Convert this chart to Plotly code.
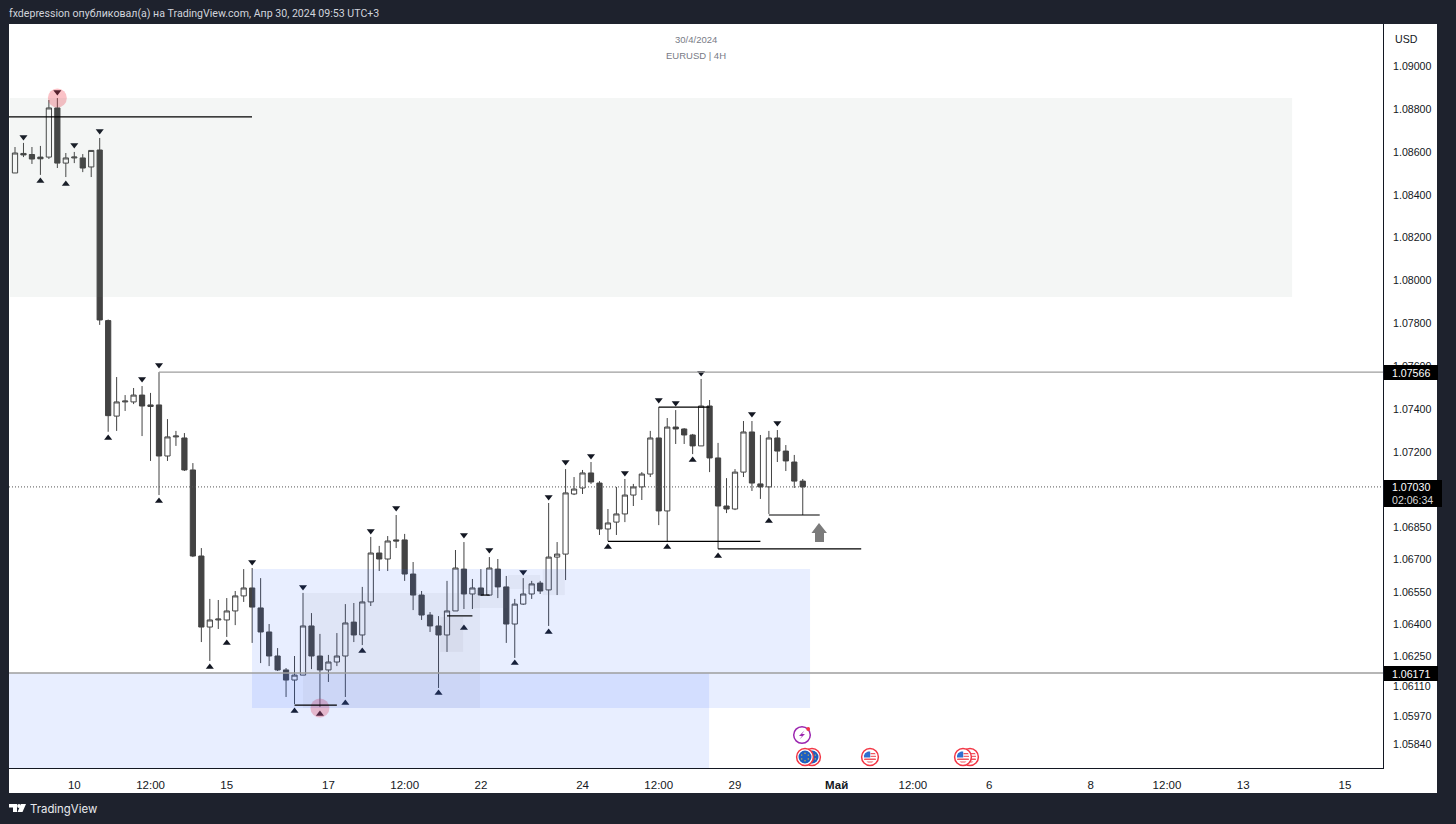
import plotly.graph_objects as go

# ---- data (EURUSD 4H) ----
opens = [1.08502,1.08593,1.08588,1.08576,1.08576,1.08805,1.08548,1.08572,1.08572,1.08530,1.08609,1.07814,
1.07369,1.07435,1.07435,1.07467,1.07421,1.07421,1.07183,1.07272,1.07267,1.07118,1.06717,1.06386,
1.06419,1.06419,1.06461,1.06531,1.06568,1.06475,1.06363,1.06251,1.06186,1.06139,1.06162,1.06391,
1.06251,1.06186,1.06223,1.06251,1.06409,1.06349,1.06503,1.06731,1.06703,1.06792,1.06792,1.06633,
1.06535,1.06442,1.06391,1.06349,1.06461,1.06656,1.06540,1.06568,1.06535,1.06656,1.06573,1.06400,
1.06493,1.06540,1.06591,1.06559,1.06712,1.06726,1.07006,1.07034,1.07104,1.07057,1.06843,1.06875,
1.06913,1.07001,1.07039,1.07099,1.07267,1.06927,1.07318,1.07309,1.07281,1.07230,1.07416,1.07174,
1.06950,1.06936,1.07108,1.07295,1.07053,1.07039,1.07267,1.07206,1.07155,1.07066]
highs = [1.08623,1.08642,1.08623,1.08628,1.08842,1.08851,1.08595,1.08600,1.08590,1.08609,1.08665,1.07819,
1.07551,1.07467,1.07500,1.07509,1.07477,1.07574,1.07355,1.07300,1.07290,1.07150,1.06754,1.06517,
1.06512,1.06521,1.06554,1.06656,1.06661,1.06614,1.06400,1.06288,1.06195,1.06251,1.06545,1.06451,
1.06354,1.06256,1.06358,1.06493,1.06498,1.06573,1.06806,1.06764,1.06810,1.06908,1.06820,1.06689,
1.06554,1.06456,1.06437,1.06601,1.06745,1.06782,1.06610,1.06656,1.06712,1.06703,1.06624,1.06517,
1.06614,1.06601,1.06601,1.06964,1.06782,1.07122,1.07085,1.07118,1.07155,1.07066,1.06936,1.07039,
1.07076,1.07053,1.07108,1.07300,1.07411,1.07360,1.07397,1.07313,1.07286,1.07542,1.07444,1.07244,
1.07080,1.07122,1.07346,1.07346,1.07281,1.07300,1.07304,1.07234,1.07188,1.07076]
lows = [1.08502,1.08576,1.08544,1.08493,1.08567,1.08525,1.08483,1.08548,1.08506,1.08483,1.07794,1.07296,
1.07300,1.07393,1.07425,1.07276,1.07160,1.07001,1.07160,1.07230,1.07113,1.06712,1.06316,1.06228,
1.06377,1.06340,1.06395,1.06503,1.06312,1.06218,1.06204,1.06181,1.06060,1.06027,1.06162,1.06190,
1.06013,1.06130,1.06204,1.06060,1.06316,1.06302,1.06484,1.06647,1.06647,1.06754,1.06601,1.06465,
1.06419,1.06363,1.06102,1.06270,1.06461,1.06470,1.06470,1.06531,1.06531,1.06521,1.06312,1.06242,
1.06489,1.06517,1.06540,1.06391,1.06535,1.06605,1.07001,1.07006,1.07053,1.06815,1.06787,1.06815,
1.06875,1.06950,1.06978,1.07085,1.06861,1.06782,1.07239,1.07239,1.07192,1.07230,1.07108,1.06750,
1.06917,1.06931,1.07085,1.07020,1.06983,1.06913,1.07155,1.07113,1.07034,1.06908]
closes = [1.08595,1.08586,1.08567,1.08568,1.08805,1.08548,1.08572,1.08576,1.08525,1.08607,1.07817,1.07371,
1.07435,1.07439,1.07467,1.07416,1.07414,1.07183,1.07272,1.07276,1.07118,1.06717,1.06386,1.06419,
1.06423,1.06461,1.06531,1.06568,1.06479,1.06363,1.06251,1.06186,1.06139,1.06162,1.06391,1.06251,
1.06186,1.06223,1.06251,1.06405,1.06349,1.06503,1.06731,1.06703,1.06787,1.06787,1.06633,1.06535,
1.06442,1.06391,1.06349,1.06461,1.06661,1.06540,1.06568,1.06535,1.06661,1.06573,1.06400,1.06493,
1.06540,1.06587,1.06554,1.06712,1.06726,1.07011,1.07029,1.07104,1.07062,1.06843,1.06871,1.06913,
1.07001,1.07039,1.07099,1.07267,1.06927,1.07318,1.07309,1.07281,1.07230,1.07416,1.07174,1.06950,
1.06936,1.07108,1.07295,1.07057,1.07039,1.07267,1.07206,1.07160,1.07066,1.07039]
bars = list(range(len(opens)))

swing_high_bars = [1,5,7,10,15,17,28,34,42,45,53,56,60,63,65,68,72,76,78,81,87,90]
swing_high_prices = [1.08670,1.08879,1.08632,1.08698,1.07542,1.07607,1.06689,1.06573,1.06834,1.06941,1.06815,
                     1.06745,1.06642,1.06992,1.07155,1.07183,1.07104,1.07444,1.07430,1.07570,1.07379,1.07337]
swing_low_bars = [3,6,11,17,23,25,33,36,39,41,50,53,59,63,70,77,80,83,89]
swing_low_prices = [1.08465,1.08451,1.07267,1.06973,1.06200,1.06312,1.05995,1.05981,1.06032,1.06274,1.06079,
                    1.06381,1.06218,1.06363,1.06759,1.06759,1.07164,1.06717,1.06880]
sweep_bars = [5,36]
sweep_prices = [1.08851,1.06009]

x_tick_bars = [7,16,25,37,46,55,67,76,85,97,106,115,127,136,145,157]
x_tick_labels = ["10","12:00","15","17","12:00","22","24","12:00","29","<b>Май</b>","12:00","6","8","12:00","13","15"]
y_ticks = [1.09,1.088,1.086,1.084,1.082,1.08,1.078,1.076,1.074,1.072,1.0685,1.067,1.0655,1.064,1.0625,1.0611,1.0597,1.0584]
y_tick_labels = ["%.5f" % v for v in y_ticks]

# zones: bar0, bar1, price_top, price_bottom
grey_zone = (-0.6,150.77,1.08851,1.07924)
blue_zones = [(27.98,93.86,1.06656,1.06009),(-0.71,81.94,1.06172,1.05729)]
inner_zones = [(34,54.9,1.06545,1.06009),(50.2,52.9,1.06433,1.06270),(54.07,58.09,1.06559,1.06475),
               (58.2,62,1.06628,1.06563),(62.3,64.9,1.06656,1.06535)]
# black levels: bar0, bar1, price
levels = [(-0.71,27.98,1.08763),(76,82,1.07411),(70,88.0,1.06785),(83,99.9,1.06750),(89,95,1.06908),
          (33,38,1.06022),(51,54,1.06438),(55,56,1.06535)]
AXIS_X = (-0.708,161.5)
AXIS_Y = (1.057291,1.091962)
LAST_LEVEL, UPPER_LEVEL, LOWER_LEVEL = 1.07039, 1.07574, 1.06172

DARK = "#1e222d"; CANDLE = "#434343"; INK = "#131722"
L, R, T, B = 9, 1383, 24, 768
px = lambda v: (v-L)/(R-L)
py = lambda v: (B-v)/(B-T)

fig = go.Figure()
fig.add_trace(go.Candlestick(x=bars, open=opens, high=highs, low=lows, close=closes,
    increasing=dict(line=dict(color=CANDLE,width=1), fillcolor="#ffffff"),
    decreasing=dict(line=dict(color=CANDLE,width=1), fillcolor=CANDLE),
    whiskerwidth=0, hoverinfo="skip", showlegend=False))
tri = dict(size=7, color=INK, line=dict(width=0))
fig.add_trace(go.Scatter(x=swing_high_bars,y=swing_high_prices,mode="markers",marker=dict(symbol="triangle-down",**tri),hoverinfo="skip",showlegend=False))
fig.add_trace(go.Scatter(x=swing_low_bars,y=swing_low_prices,mode="markers",marker=dict(symbol="triangle-up",**tri),hoverinfo="skip",showlegend=False))
fig.add_trace(go.Scatter(x=sweep_bars,y=sweep_prices,mode="markers",marker=dict(symbol="circle",size=19,color="rgba(242,54,69,0.3)",line=dict(width=0)),hoverinfo="skip",showlegend=False))

shapes = []
def paper_rect(x0,y0,x1,y1,color,layer="below"):
    shapes.append(dict(type="rect",xref="paper",yref="paper",x0=px(x0),x1=px(x1),y0=py(y1),y1=py(y0),
                       fillcolor=color,line=dict(width=0),layer=layer))
def paper_circle(cx,cy,r,fill,line=None,lw=0):
    shapes.append(dict(type="circle",xref="paper",yref="paper",x0=px(cx-r),x1=px(cx+r),y0=py(cy+r),y1=py(cy-r),
                       fillcolor=fill,line=dict(color=line or fill,width=lw),layer="above"))
def paper_poly(points,color):
    d = "M"+" L".join("%.5f,%.5f"%(px(a),py(b)) for a,b in points)+" Z"
    shapes.append(dict(type="path",xref="paper",yref="paper",path=d,fillcolor=color,line=dict(width=0),layer="above"))

# white axis bands
paper_rect(1383,24,1437,793,"#ffffff")
paper_rect(9,768,1437,793,"#ffffff")

def data_rect(z,color):
    shapes.append(dict(type="rect",xref="x",yref="y",x0=z[0],x1=z[1],y0=z[3],y1=z[2],fillcolor=color,line=dict(width=0),layer="above"))
data_rect(grey_zone,"rgba(120,144,130,0.08)")
for z in blue_zones: data_rect(z,"rgba(41,98,255,0.11)")
for z in inner_zones: data_rect(z,"rgba(110,120,130,0.07)")

def hline(x0,x1,y,color,w,dash="solid"):
    shapes.append(dict(type="line",xref="x",yref="y",x0=x0,x1=x1,y0=y,y1=y,line=dict(color=color,width=w,dash=dash),layer="above"))
for a,b,p in levels: hline(a,b,p,"#000000",1.2)
hline(17,AXIS_X[1],UPPER_LEVEL,"#9e9e9e",1.4)
hline(AXIS_X[0],AXIS_X[1],LOWER_LEVEL,"#9e9e9e",1.4)
hline(AXIS_X[0],AXIS_X[1],LAST_LEVEL,"#555555",1,"1px,2px")

# up arrow
paper_poly([(819,523),(827,533),(824,533),(824,542),(815,542),(815,533),(811.5,533)],"#7b7b7b")

# price labels
paper_rect(1384,365,1438,380,"#000000","above")
paper_rect(1384,666,1438,681,"#000000","above")
paper_rect(1384,480,1442,507,"#000000","above")

# event icons
def eu(cx,cy):
    paper_circle(cx,cy,8.4,"#ffffff","#f23645",1.5)
    paper_circle(cx,cy,6.5,"#1e5fc0")
    for dx,dy in [(0,-3.8),(3.3,-1.9),(3.3,1.9),(0,3.8),(-3.3,1.9),(-3.3,-1.9)]:
        paper_circle(cx+dx,cy+dy,0.7,"#f2c230")
def us(cx,cy):
    paper_circle(cx,cy,8.4,"#ffffff","#f23645",1.5)
    paper_poly([(cx-5.6,cy+1.6),(cx+5.6,cy+1.6),(cx+6,cy+3),(cx-6,cy+3)],"#f0565f")
    paper_poly([(cx-3.5,cy+4.4),(cx+3.5,cy+4.4),(cx+2,cy+5.6),(cx-2,cy+5.6)],"#f0565f")
    paper_poly([(cx+0.5,cy-1.2),(cx+6,cy-1.2),(cx+6,cy-0.1),(cx+0.5,cy-0.1)],"#f0565f")
    paper_poly([(cx+0.5,cy-4),(cx+5,cy-4),(cx+5.6,cy-2.8),(cx+0.5,cy-2.8)],"#f0565f")
    paper_poly([(cx-5,cy-3.8),(cx-2,cy-5.6),(cx+0.2,cy-5.6),(cx+0.2,cy+0.5),(cx-6,cy+0.5),(cx-6,cy-1.5)],"#2f6fd0")
eu(812,757); eu(805,757)
us(870,757)
us(970,757); us(963,757)
paper_circle(802,735,8.3,"rgba(255,255,255,0)","#9c27b0",1.5)
paper_poly([(804.5,730.5),(799,736),(802,736),(799.5,739.5),(805,734),(802,734)],"#9c27b0")
paper_circle(808.2,729,1.9,"#f23645")

# TradingView logo
paper_poly([(9,804),(17,804),(17,812),(13,812),(13,807.5),(9,807.5)],"#ffffff")
paper_circle(19,806,1.9,"#ffffff")
paper_poly([(21,804),(26,804),(22.5,812),(17.5,812)],"#ffffff")

def ann(x,y,text,size,color,anchor="left",family="Liberation Sans"):
    return dict(xref="paper",yref="paper",x=px(x),y=py(y),text=text,showarrow=False,xanchor=anchor,yanchor="middle",
                font=dict(size=size,color=color,family=family),borderpad=0,borderwidth=0)
annotations = [
    ann(9,13.5,"fxdepression опубликовал(а) на TradingView.com, Апр 30, 2024 09:53 UTC+3",10.6,"#d1d4dc",family="Roboto"),
    ann(696,40,"30/4/2024",9.5,"#787b86","center"),
    ann(696,55.5,"EURUSD | 4H",9.5,"#787b86","center"),
    ann(1395,38.5,"USD",10.6,INK),
    ann(30,808.5,"TradingView",11.4,"#e8eaee",family="Inter"),
    ann(1392,372.5,"1.07566",10.6,"#ffffff"),
    ann(1392,673.5,"1.06171",10.6,"#ffffff"),
    ann(1392,487,"1.07030",10.6,"#ffffff"),
    ann(1392,499.5,"02:06:34",10.6,"#d8d8d8"),
]

fig.update_layout(
    width=1456,height=824,autosize=False,
    margin=dict(l=L,r=1456-R,t=T,b=824-B,pad=0),
    paper_bgcolor=DARK,plot_bgcolor="#ffffff",showlegend=False,
    shapes=shapes,annotations=annotations,boxgap=0.12,hovermode=False,
    font=dict(family="Liberation Sans",size=11,color=INK),
    xaxis=dict(range=list(AXIS_X),tickmode="array",tickvals=x_tick_bars,ticktext=x_tick_labels,
               showgrid=False,zeroline=False,rangeslider=dict(visible=False),ticks="",
               showline=True,linecolor="#131722",linewidth=1,ticklabelstandoff=6,tickfont=dict(size=11.5,color=INK)),
    yaxis=dict(range=list(AXIS_Y),side="right",tickmode="array",tickvals=y_ticks,ticktext=y_tick_labels,
               showgrid=False,zeroline=False,ticks="",showline=True,linecolor="#131722",linewidth=1,
               ticklabelstandoff=7,tickfont=dict(size=10.6,color=INK)),
)
fig.write_html("out.html", config=dict(displayModeBar=False),
               post_script="document.body.style.margin='0';document.documentElement.style.background='#1e222d';")
